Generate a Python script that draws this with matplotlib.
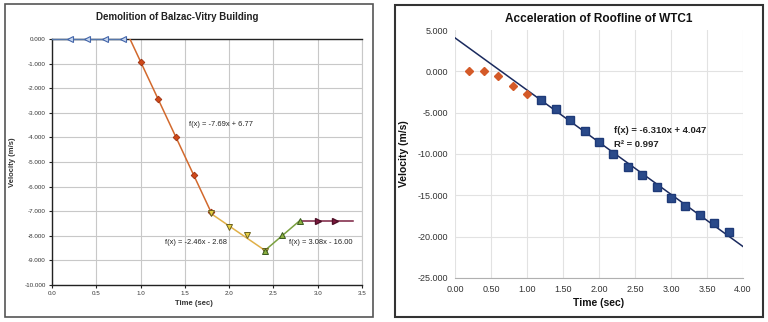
import matplotlib
matplotlib.use("Agg")
import matplotlib.pyplot as plt
import numpy as np
from matplotlib.patches import Rectangle

plt.rcParams['font.family'] = ['Liberation Sans', 'DejaVu Sans']

# ---------------- Left chart data (Balzac-Vitry) ----------------
still_t = [0.0, 0.2, 0.4, 0.6, 0.8]
still_v = [0.0, 0.0, 0.0, 0.0, 0.0]
fall_t = [1.0, 1.2, 1.4, 1.6, 1.8]
fall_v = [-0.92, -2.44, -3.98, -5.53, -7.05]
fall_fit = (-7.69, 6.77)
fall_range = [0.88, 1.8]
slow_t = [1.8, 2.0, 2.2, 2.4]
slow_v = [-7.07, -7.64, -7.97, -8.60]
slow_fit = (-2.46, -2.68)
rise_t = [2.4, 2.6, 2.8]
rise_v = [-8.60, -7.98, -7.38]
rise_fit = (3.08, -16.00)
flat_t = [2.8, 3.0, 3.2, 3.4]
flat_v = [-7.38, -7.38, -7.38, -7.38]
left_xticks = [0.0, 0.5, 1.0, 1.5, 2.0, 2.5, 3.0, 3.5]
left_yticks = [0, -1, -2, -3, -4, -5, -6, -7, -8, -9, -10]

# ---------------- Right chart data (WTC1) ----------------
pre_t = [0.2, 0.4, 0.6, 0.8, 1.0]
pre_v = [0.0, 0.0, -0.58, -1.78, -2.78]
wtc_t = [1.2, 1.4, 1.6, 1.8, 2.0, 2.2, 2.4, 2.6, 2.8, 3.0, 3.2, 3.4, 3.6, 3.8]
wtc_v = [-3.46, -4.55, -5.88, -7.21, -8.54, -9.99, -11.6, -12.6, -13.98,
         -15.3, -16.3, -17.4, -18.3, -19.4]
wtc_fit = (-6.310, 4.047)
wtc_range = [0.0, 4.0]
right_xticks = [0.0, 0.5, 1.0, 1.5, 2.0, 2.5, 3.0, 3.5, 4.0]
right_yticks = [5, 0, -5, -10, -15, -20, -25]

W, H = 768, 322
fig = plt.figure(figsize=(W / 100, H / 100), dpi=100)
fig.patch.set_facecolor('white')

def fr(x0, y0, x1, y1):
    return [x0 / W, 1 - y1 / H, (x1 - x0) / W, (y1 - y0) / H]

# outer frames
fig.patches.append(Rectangle((5 / W, 1 - 317 / H), 368 / W, 313 / H, transform=fig.transFigure,
                             fill=False, edgecolor='#555555', linewidth=1.2))
fig.patches.append(Rectangle((395 / W, 1 - 317 / H), 368 / W, 312 / H, transform=fig.transFigure,
                             fill=False, edgecolor='#333333', linewidth=1.5))

# ---------------- Left axes ----------------
ax1 = fig.add_axes(fr(52, 39, 362, 285))
ax1.set_xlim(0, 3.5)
ax1.set_ylim(-10, 0)
ax1.set_xticks(left_xticks)
ax1.set_yticks(left_yticks)
ax1.set_xticklabels([f"{t:.1f}" for t in left_xticks], fontsize=4.5, color='#333333')
ax1.set_yticklabels([f"{v:.3f}" for v in left_yticks], fontsize=4.5, color='#333333')
ax1.grid(True, color='#c8c8c8', linewidth=0.8)
ax1.set_axisbelow(True)
for s in ['left', 'bottom', 'top']:
    ax1.spines[s].set_color('#222222')
    ax1.spines[s].set_linewidth(1.0)
ax1.spines['right'].set_color('#c8c8c8')
ax1.tick_params(length=2.5, width=0.8, pad=2, color='#222222')

ax1.plot(still_t, still_v, color='#5577aa', lw=1.0, marker='<', ms=4.2,
         mfc='#c8d8f0', mec='#4466aa', mew=0.8, markevery=[1, 2, 3, 4], zorder=5,
         clip_on=False)
fx = np.array(fall_range)
ax1.plot(fx, fall_fit[0] * fx + fall_fit[1], color='#d2692d', lw=1.1, zorder=3)
ax1.plot(fall_t, fall_v, ls='none', marker='D', ms=3.4, mfc='#d04818', mec='#9a3010',
         mew=0.6, zorder=4)
sx = np.array([slow_t[0], slow_t[-1]])
ax1.plot(sx, slow_fit[0] * sx + slow_fit[1], color='#e0b048', lw=1.1, zorder=3)
ax1.plot(slow_t, slow_v, ls='none', marker='v', ms=4.2, mfc='#e8d040', mec='#6a6020',
         mew=0.7, zorder=5)
rx = np.array([rise_t[0], rise_t[-1]])
ax1.plot(rx, rise_fit[0] * rx + rise_fit[1], color='#7aa040', lw=1.1, zorder=3)
ax1.plot(rise_t, rise_v, ls='none', marker='^', ms=4.2, mfc='#8cb040', mec='#3a5a20',
         mew=0.7, zorder=5)
ax1.plot(flat_t, flat_v, color='#7a2040', lw=1.1, marker='>', ms=4.2, mfc='#801a40',
         mec='#501028', markevery=[1, 2], zorder=4)

tkw = dict(fontsize=5.4, color='#222222', va='center', ha='left')
ax1.text(1.55, -3.46, 'f(x) = -7.69x + 6.77', **tkw)
ax1.text(1.275, -8.29, 'f(x) = -2.46x - 2.68', **tkw)
ax1.text(2.675, -8.29, 'f(x) = 3.08x - 16.00', **tkw)

fig.text(177 / W, 1 - 17 / H, 'Demolition of Balzac-Vitry Building', fontsize=7.0,
         fontweight='bold', color='#222222', ha='center', va='center')
ax1.set_xlabel('Time (sec)', fontsize=5.5, fontweight='bold', color='#333333')
ax1.xaxis.set_label_coords((194 - 52) / 310, -(300 - 285) / 246)
ax1.set_ylabel('Velocity (m/s)', fontsize=5.5, fontweight='bold', color='#333333', labelpad=6)

# ---------------- Right axes ----------------
ax2 = fig.add_axes(fr(455, 30, 743, 278))
ax2.set_xlim(0, 4)
ax2.set_ylim(-25, 5)
ax2.set_xticks(right_xticks)
ax2.set_yticks(right_yticks)
ax2.set_xticklabels([f"{t:.2f}" for t in right_xticks], fontsize=6.5, color='#333333')
ax2.set_yticklabels([f"{v:.3f}" for v in right_yticks], fontsize=6.5, color='#333333')
ax2.grid(True, color='#e2e2e2', linewidth=0.8)
ax2.set_axisbelow(True)
for s in ['left', 'top', 'right']:
    ax2.spines[s].set_visible(False)
ax2.spines['bottom'].set_color('#b0b0b0')
ax2.tick_params(length=0, pad=5)
ax2.yaxis.get_gridlines()[0].set_visible(False)

wx = np.array(wtc_range)
ax2.plot(wx, wtc_fit[0] * wx + wtc_fit[1], color='#1a2a5e', lw=1.1, zorder=3)
ax2.plot(pre_t, pre_v, ls='none', marker='D', ms=4.5, mfc='#d45a28', mec='#d45a28', zorder=4)
ax2.plot(wtc_t, wtc_v, ls='none', marker='s', ms=6, mfc='#2a4a8a', mec='#1e3a78', zorder=4)

ax2.text(2.21, -7.2, 'f(x) = -6.310x + 4.047', fontsize=6.8, fontweight='bold',
         color='#222222', va='center', ha='left')
ax2.text(2.21, -8.8, 'R² = 0.997', fontsize=6.8, fontweight='bold',
         color='#222222', va='center', ha='left')

ax2.set_title('Acceleration of Roofline of WTC1', fontsize=8.5, fontweight='bold',
              color='#111111', pad=6)
ax2.set_xlabel('Time (sec)', fontsize=7.5, fontweight='bold', color='#111111', labelpad=3)
ax2.set_ylabel('Velocity (m/s)', fontsize=7.5, fontweight='bold', color='#111111', labelpad=6)

fig.savefig('out.png', dpi=100, facecolor='white')
